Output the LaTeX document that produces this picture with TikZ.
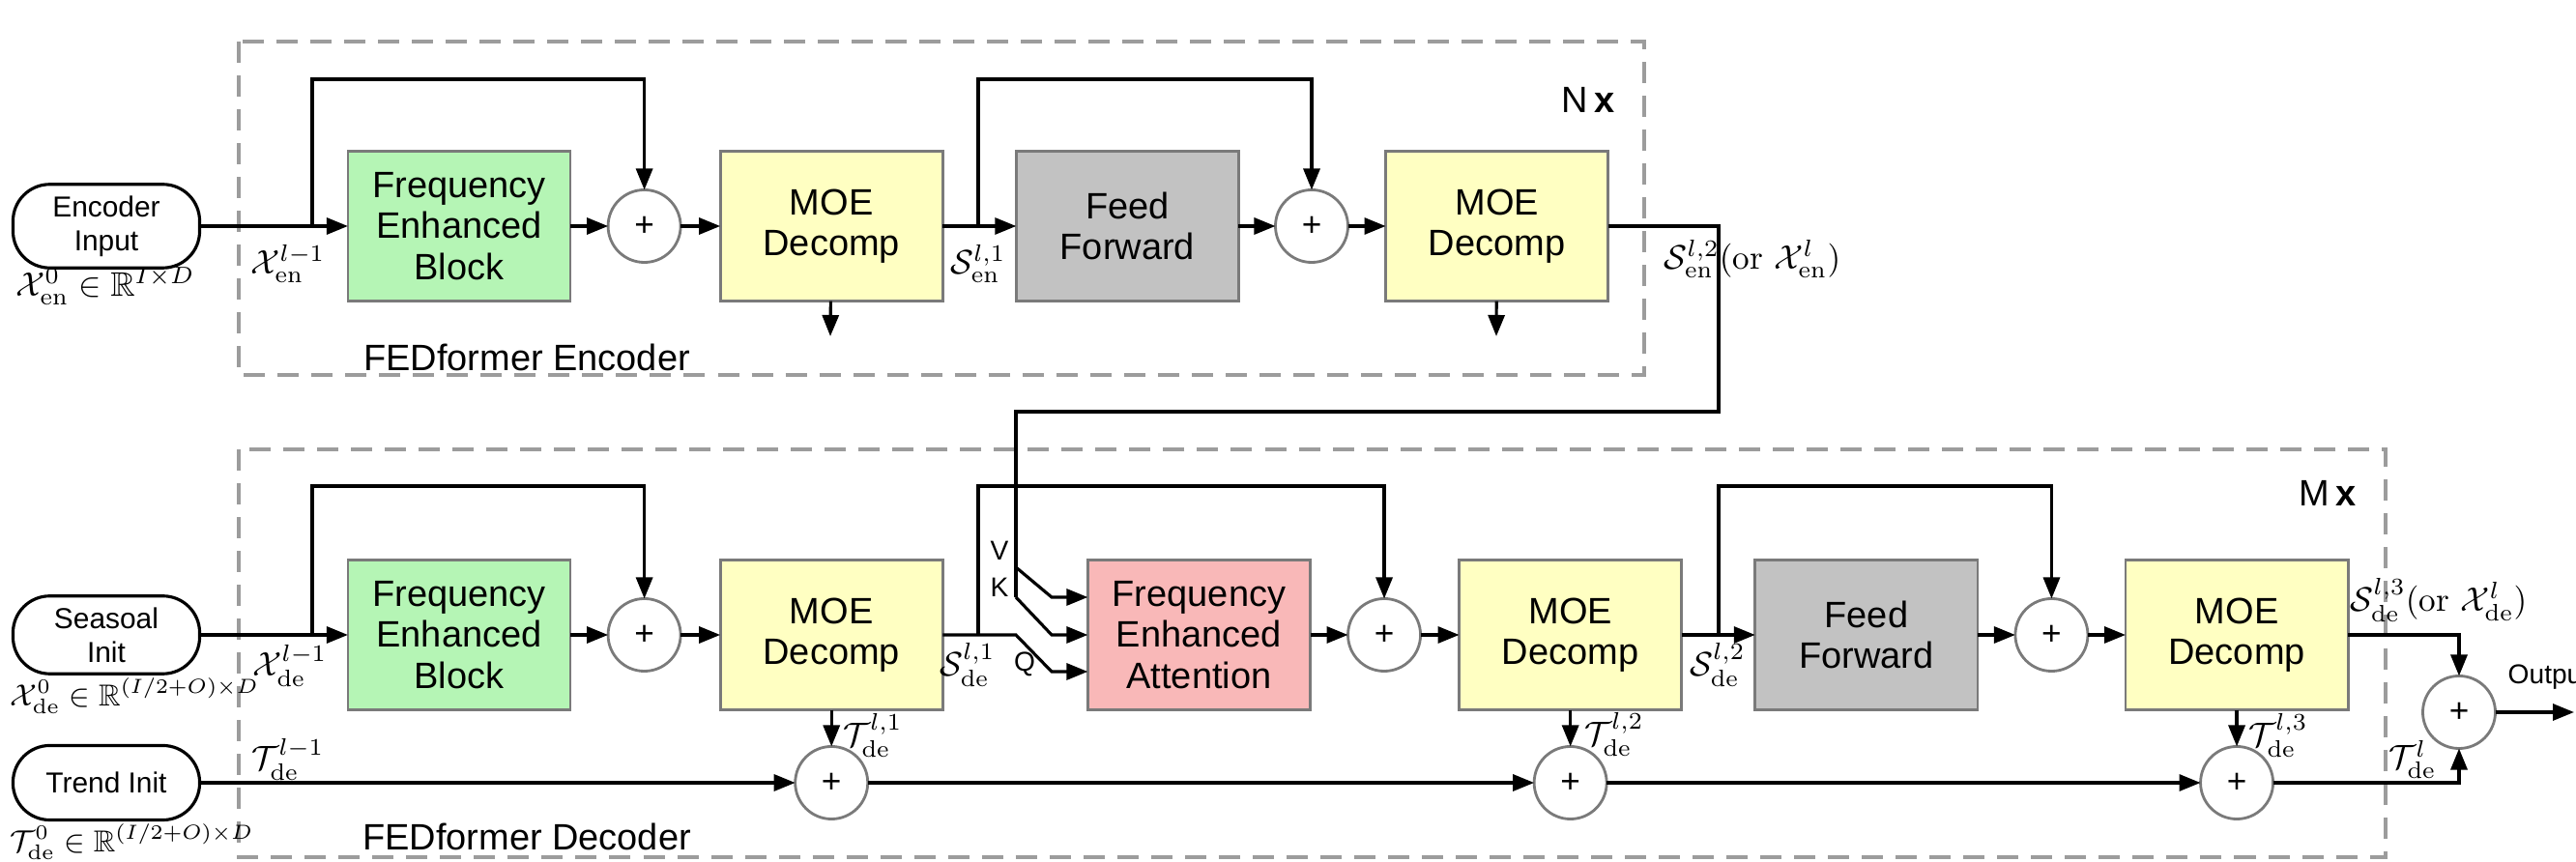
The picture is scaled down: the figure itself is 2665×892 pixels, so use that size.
\documentclass[tikz,border=0pt]{standalone}
\usepackage{amssymb}
\usepackage{fontspec}
\setsansfont{Liberation Sans}
\usetikzlibrary{arrows.meta,positioning,calc}

\definecolor{febGreen}{HTML}{B5F5B5}
\definecolor{moeYellow}{HTML}{FFFFC2}
\definecolor{ffGray}{HTML}{C2C2C2}
\definecolor{feaPink}{HTML}{F9B8B8}
\definecolor{boxBorder}{HTML}{7A7A7A}
\definecolor{dashGray}{HTML}{9C9C9C}

\tikzset{
    block/.style={
        draw=boxBorder,
        line width=0.8pt,
        rectangle,
        outer sep=0pt,
        align=center,
        minimum width=2.3cm,
        minimum height=1.55cm,
        font=\fontsize{10.8}{12}\selectfont\sffamily
    },
    febblock/.style={block, fill=febGreen},
    moeblock/.style={block, fill=moeYellow},
    ffblock/.style={block, fill=ffGray},
    feablock/.style={block, fill=feaPink},
    terminal/.style={
        draw,
        line width=0.9pt,
        rectangle,
        rounded corners=3.8mm,
        align=center,
        minimum width=1.93cm,
        minimum height=0.77cm,
        font=\fontsize{8.5}{10}\selectfont\sffamily
    },
    adder/.style={
        draw=boxBorder,
        line width=0.8pt,
        circle,
        outer sep=0pt,
        fill=white,
        minimum size=0.75cm,
        inner sep=0pt,
        font=\fontsize{10}{12}\selectfont\sffamily
    },
    arr/.style={
        -{Triangle[length=0.22cm,width=0.17cm]},
        line width=0.9pt
    },
    wire/.style={line width=0.9pt},
    stackbox/.style={draw=dashGray, line width=1.4pt, dash pattern=on 0.22cm off 0.13cm},
    mlabel/.style={font=\fontsize{10}{12}\selectfont, inner sep=0pt},
    inlabel/.style={font=\fontsize{8.9}{11}\selectfont, inner sep=0pt, anchor=west},
    titletext/.style={font=\fontsize{10.8}{12}\selectfont\sffamily, inner sep=0pt},
    pinlabel/.style={font=\fontsize{8}{10}\selectfont\sffamily, inner sep=0pt}
}

\begin{document}
\begin{tikzpicture}[x=0.01cm, y=-0.01cm]
    \useasboundingbox (0,0) rectangle (2665,892);

    % Repeated stacks
    \draw[stackbox] (247,43) rectangle (1701,388);
    \draw[stackbox] (247,465) rectangle (2468,887);
    \node[titletext] (encTitle) at (545,370) {FEDformer Encoder};
    \node[titletext] (decTitle) at (545,866) {FEDformer Decoder};
    \node[titletext] (encTimes) at (1643,103) {N\,\textbf{x}};
    \node[titletext] (decTimes) at (2408,510) {M\,\textbf{x}};

    % Encoder
    \node[terminal] (encin) at (110,234) {Encoder\\Input};
    \node[febblock] (febEn) at (475,234) {Frequency\\Enhanced\\Block};
    \node[adder, right=0.39cm of febEn] (addEnA) {+};
    \node[moeblock, right=0.41cm of addEnA] (moeEnA) {MOE\\Decomp};
    \node[ffblock, right=0.76cm of moeEnA] (ffEn) {Feed\\Forward};
    \node[adder, right=0.38cm of ffEn] (addEnB) {+};
    \node[moeblock, right=0.39cm of addEnB] (moeEnB) {MOE\\Decomp};

    \coordinate (enTop) at (0,82);
    \coordinate (brEnA) at (323,234);
    \coordinate (brEnB) at (1012,234);
    \coordinate (dnEnA) at (859,348);
    \coordinate (dnEnB) at (1548,348);

    \draw[arr] (encin) -- (febEn);
    \draw[arr] (brEnA) -- (brEnA |- enTop) -| (addEnA);
    \draw[arr] (febEn) -- (addEnA);
    \draw[arr] (addEnA) -- (moeEnA);
    \draw[arr] (moeEnA) -- (ffEn);
    \draw[arr] (brEnB) -- (brEnB |- enTop) -| (addEnB);
    \draw[arr] (ffEn) -- (addEnB);
    \draw[arr] (addEnB) -- (moeEnB);
    \draw[arr] (moeEnA) -- (dnEnA);
    \draw[arr] (moeEnB) -- (dnEnB);

    \node[mlabel] (xEnZero) at (109,296) {$\mathcal{X}^0_{\mathrm{en}}\in\mathbb{R}^{I\times D}$};
    \node[mlabel] (xEnIn) at (298,273) {$\mathcal{X}^{l-1}_{\mathrm{en}}$};
    \node[mlabel] (sEnA) at (1012,273) {$\mathcal{S}^{l,1}_{\mathrm{en}}$};
    \node[mlabel] (sEnB) at (1813,268) {$\mathcal{S}^{l,2}_{\mathrm{en}}(\mathrm{or}\ \mathcal{X}^{l}_{\mathrm{en}})$};

    % Decoder, seasonal part
    \node[terminal] (seasin) at (110,657) {Seasoal\\Init};
    \node[febblock] (febDe) at (475,657) {Frequency\\Enhanced\\Block};
    \node[adder, right=0.39cm of febDe] (addDeA) {+};
    \node[moeblock, right=0.41cm of addDeA] (moeDeA) {MOE\\Decomp};
    \node[feablock, right=1.50cm of moeDeA] (fea) {Frequency\\Enhanced\\Attention};
    \node[adder, right=0.39cm of fea] (addDeB) {+};
    \node[moeblock, right=0.40cm of addDeB] (moeDeB) {MOE\\Decomp};
    \node[ffblock, right=0.76cm of moeDeB] (ffDe) {Feed\\Forward};
    \node[adder, right=0.39cm of ffDe] (addDeC) {+};
    \node[moeblock, right=0.39cm of addDeC] (moeDeC) {MOE\\Decomp};

    \coordinate (deTop) at (0,503);
    \coordinate (brDeA) at (323,657);
    \coordinate (brDeB) at (1012,657);
    \coordinate (brDeC) at (1778,657);

    \draw[arr] (seasin) -- (febDe);
    \draw[arr] (brDeA) -- (brDeA |- deTop) -| (addDeA);
    \draw[arr] (febDe) -- (addDeA);
    \draw[arr] (addDeA) -- (moeDeA);
    \draw[arr] (brDeB) -- (brDeB |- deTop) -| (addDeB);
    \draw[arr] (fea) -- (addDeB);
    \draw[arr] (addDeB) -- (moeDeB);
    \draw[arr] (moeDeB) -- (ffDe);
    \draw[arr] (brDeC) -- (brDeC |- deTop) -| (addDeC);
    \draw[arr] (ffDe) -- (addDeC);
    \draw[arr] (addDeC) -- (moeDeC);

    % Encoder output into V, K and the decoder Q
    \coordinate (encOut) at (1778,234);
    \coordinate (vkDrop) at (1051,426);
    \coordinate (vSplit) at (1051,587);
    \coordinate (kSplit) at (1051,618);
    \coordinate (qSplit) at (1051,657);

    \draw[wire] (moeEnB) -- (encOut) |- (vkDrop) -- (kSplit);
    \draw[arr] (vSplit) -- ++(37,31) -- ($(fea.west)+(0,-39)$);
    \draw[arr] (kSplit) -- ++(37,39) -- (fea.west);
    \draw[arr] (moeDeA) -- (qSplit) -- ++(37,38) -- ($(fea.west)+(0,38)$);

    \node[pinlabel] (vTag) at (1034,570) {V};
    \node[pinlabel] (kTag) at (1034,608) {K};
    \node[pinlabel] (qTag) at (1060,687) {Q};

    % Decoder, trend part
    \node[terminal] (trendin) at (110,810) {Trend Init};
    \node[adder] (addTrA) at (moeDeA |- trendin) {+};
    \node[adder] (addTrB) at (moeDeB |- trendin) {+};
    \node[adder] (addTrC) at (moeDeC |- trendin) {+};
    \node[adder] (addOut) at (2544,737) {+};
    \coordinate (outEnd) at (2663,737);

    \draw[arr] (trendin) -- (addTrA);
    \draw[arr] (addTrA) -- (addTrB);
    \draw[arr] (addTrB) -- (addTrC);
    \draw[arr] (addTrC) -| (addOut);
    \draw[arr] (moeDeA) -- (addTrA);
    \draw[arr] (moeDeB) -- (addTrB);
    \draw[arr] (moeDeC) -- (addTrC);
    \draw[arr] (moeDeC) -| (addOut);
    \draw[arr] (addOut) -- (outEnd);
    \node[pinlabel, anchor=west] (outTag) at (2594,701) {Output};

    \node[inlabel] (xDeZero) at (10,720) {$\mathcal{X}^0_{\mathrm{de}}\in\mathbb{R}^{(I/2+O)\times D}$};
    \node[inlabel] (tDeZero) at (10,871) {$\mathcal{T}^0_{\mathrm{de}}\in\mathbb{R}^{(I/2+O)\times D}$};
    \node[mlabel] (xDeIn) at (300,689) {$\mathcal{X}^{l-1}_{\mathrm{de}}$};
    \node[mlabel] (tDeIn) at (298,786) {$\mathcal{T}^{l-1}_{\mathrm{de}}$};
    \node[mlabel] (sDeA) at (1001,688) {$\mathcal{S}^{l,1}_{\mathrm{de}}$};
    \node[mlabel] (tDeA) at (903,761) {$\mathcal{T}^{l,1}_{\mathrm{de}}$};
    \node[mlabel] (sDeB) at (1777,688) {$\mathcal{S}^{l,2}_{\mathrm{de}}$};
    \node[mlabel] (tDeB) at (1670,760) {$\mathcal{T}^{l,2}_{\mathrm{de}}$};
    \node[mlabel] (tDeC) at (2357,761) {$\mathcal{T}^{l,3}_{\mathrm{de}}$};
    \node[mlabel] (sDeC) at (2523,621) {$\mathcal{S}^{l,3}_{\mathrm{de}}(\mathrm{or}\ \mathcal{X}^{l}_{\mathrm{de}})$};
    \node[mlabel] (tDeOut) at (2496,786) {$\mathcal{T}^{l}_{\mathrm{de}}$};
\end{tikzpicture}
\end{document}
